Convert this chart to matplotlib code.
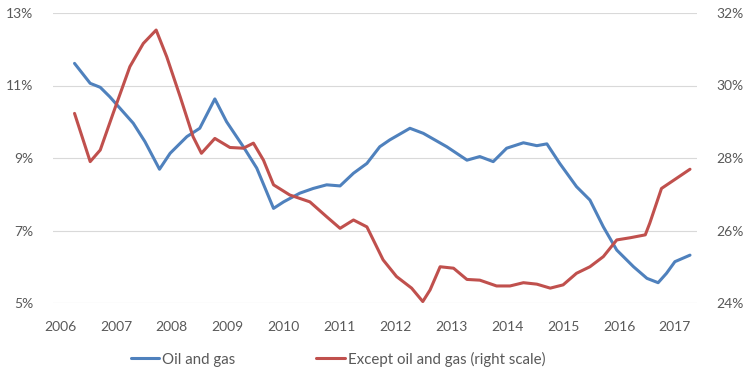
import matplotlib.pyplot as plt
from matplotlib.ticker import FuncFormatter

# Oil and gas (left scale, %)
oil_x = [2006.26, 2006.54, 2006.72, 2006.89, 2007.31, 2007.52, 2007.78, 2007.97,
         2008.27, 2008.50, 2008.77, 2008.98, 2009.28, 2009.52, 2009.82, 2010.00,
         2010.29, 2010.53, 2010.77, 2011.01, 2011.25, 2011.49, 2011.72, 2011.90,
         2012.26, 2012.50, 2012.92, 2013.28, 2013.51, 2013.75, 2013.99, 2014.29,
         2014.53, 2014.71, 2014.94, 2015.24, 2015.48, 2015.72, 2015.96, 2016.26,
         2016.50, 2016.70, 2016.85, 2017.00, 2017.27]
oil_y = [11.61, 11.06, 10.95, 10.69, 9.96, 9.45, 8.69, 9.13,
         9.59, 9.82, 10.63, 10.0, 9.31, 8.72, 7.61, 7.79,
         8.03, 8.16, 8.26, 8.23, 8.58, 8.85, 9.31, 9.5,
         9.82, 9.68, 9.31, 8.94, 9.04, 8.9, 9.27, 9.42,
         9.34, 9.39, 8.85, 8.21, 7.84, 7.1, 6.46, 6.0,
         5.68, 5.56, 5.82, 6.14, 6.32]

# Except oil and gas (right scale, %)
other_x = [2006.26, 2006.54, 2006.72, 2006.95, 2007.25, 2007.49, 2007.72, 2007.91,
           2008.15, 2008.38, 2008.53, 2008.77, 2009.04, 2009.28, 2009.46, 2009.64,
           2009.82, 2010.11, 2010.47, 2010.77, 2011.01, 2011.25, 2011.49, 2011.78,
           2012.02, 2012.29, 2012.49, 2012.62, 2012.80, 2013.04, 2013.28, 2013.51,
           2013.81, 2014.05, 2014.29, 2014.53, 2014.77, 2015.00, 2015.24, 2015.48,
           2015.72, 2015.96, 2016.20, 2016.47, 2016.55, 2016.76, 2017.03, 2017.27]
other_y = [29.23, 27.9, 28.22, 29.23, 30.52, 31.16, 31.53, 30.79,
           29.69, 28.59, 28.13, 28.54, 28.29, 28.27, 28.41, 27.94,
           27.26, 26.98, 26.79, 26.38, 26.06, 26.29, 26.1, 25.19,
           24.73, 24.41, 24.04, 24.36, 25.0, 24.96, 24.65, 24.63,
           24.47, 24.47, 24.56, 24.52, 24.41, 24.5, 24.82, 25.0,
           25.28, 25.74, 25.8, 25.88, 26.2, 27.16, 27.44, 27.69]

years = list(range(2006, 2018))
left_ticks = [5, 7, 9, 11, 13]
right_ticks = [24, 26, 28, 30, 32]

blue = "#4F81BD"
red = "#C0504D"
grey = "#595959"

plt.rcParams['font.family'] = ['Lato', 'DejaVu Sans']
plt.rcParams['font.size'] = 10

fig = plt.figure(figsize=(7.49, 3.82), dpi=100)
ax = fig.add_axes([53/749, 1-303/382, 644/749, 290/382])
ax2 = ax.twinx()

l1, = ax.plot(oil_x, oil_y, color=blue, lw=2.2, solid_joinstyle='round', solid_capstyle='round')
l2, = ax2.plot(other_x, other_y, color=red, lw=2.2, solid_joinstyle='round', solid_capstyle='round')

ax.set_xlim(2006 - 7/55.9, 2006 + 637/55.9)
ax.set_ylim(5, 13)
ax2.set_ylim(24, 32)
ax.set_yticks(left_ticks)
ax2.set_yticks(right_ticks)
ax.set_xticks(years)
ax.set_xticklabels([str(y) for y in years])
pct = FuncFormatter(lambda v, p: f"{v:.0f}%")
ax.yaxis.set_major_formatter(pct)
ax2.yaxis.set_major_formatter(pct)

ax.grid(axis='y', color='#D9D9D9', lw=0.8)
ax.set_axisbelow(True)
for a in (ax, ax2):
    for s in a.spines.values():
        s.set_visible(False)
    a.tick_params(length=0, colors=grey, labelsize=10)
ax.tick_params(axis='y', pad=14)
ax2.tick_params(axis='y', pad=14)
ax.tick_params(axis='x', pad=13)

fig.legend([l1, l2], ["Oil and gas", "Except oil and gas (right scale)"],
           loc='center', bbox_to_anchor=(338/749, 1-359/382), ncol=2,
           frameon=False, handlelength=1.9, handletextpad=0.2, columnspacing=5.4,
           labelcolor=grey, fontsize=10.8)

fig.savefig("out.png", dpi=100)
